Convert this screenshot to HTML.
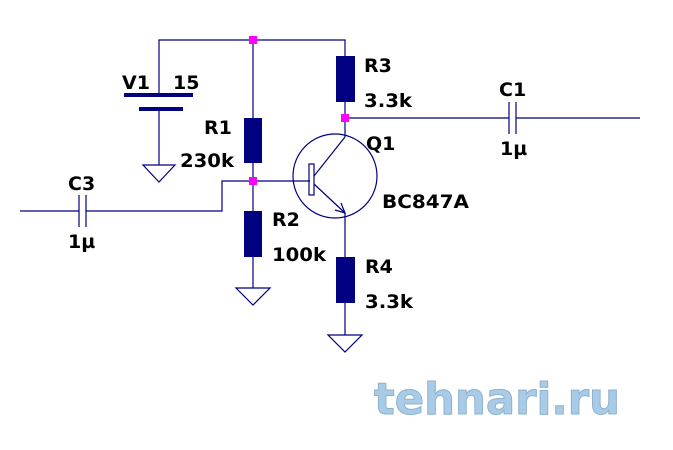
<!DOCTYPE html><html><head><style>body{margin:0;background:#fff}svg{display:block}text{font-family:"DejaVu Sans","Liberation Sans",sans-serif;font-weight:bold;font-size:19px;fill:#000}</style></head><body>
<svg width="673" height="450" viewBox="0 0 673 450">
<g stroke="#000080" stroke-width="1.2" fill="none">
<polyline points="159,95 159,40 345,40 345,56"/>
<line x1="159" y1="108" x2="159" y2="165"/>
<polygon points="143,165 175,165 159,182"/>
<line x1="253" y1="40" x2="253" y2="118"/>
<line x1="253" y1="163" x2="253" y2="211"/>
<line x1="253" y1="257" x2="253" y2="288"/>
<polygon points="236,288 270,288 253,305"/>
<line x1="253" y1="181" x2="310" y2="181"/>
<polyline points="253,181 222,181 222,211 86,211"/>
<line x1="20" y1="211" x2="79" y2="211"/>
<line x1="79" y1="195" x2="79" y2="227"/><line x1="86" y1="195" x2="86" y2="227"/>
<line x1="345" y1="102" x2="345" y2="137"/>
<line x1="345" y1="118" x2="509" y2="118"/>
<line x1="509" y1="102" x2="509" y2="134"/><line x1="516" y1="102" x2="516" y2="134"/>
<line x1="516" y1="118" x2="640" y2="118"/>
<circle cx="335" cy="176" r="42"/>
<rect x="309" y="164" width="5" height="31"/>
<line x1="314" y1="176" x2="345" y2="137"/>
<line x1="314" y1="184" x2="345" y2="213"/>
<polyline points="335,210 345,213 341,203"/>
<line x1="345" y1="213" x2="345" y2="257"/>
<line x1="345" y1="303" x2="345" y2="335"/>
<polygon points="328,335 362,335 345,352"/>
</g>
<g fill="#000080">
<rect x="124" y="93" width="69" height="4"/>
<rect x="139" y="107" width="44" height="4"/>
<rect x="244" y="118" width="18" height="45"/>
<rect x="244" y="211" width="18" height="46"/>
<rect x="336" y="56" width="19" height="46"/>
<rect x="336" y="257" width="19" height="46"/>
</g>
<g fill="#ff00ff">
<rect x="249" y="36" width="8" height="8"/>
<rect x="249" y="177" width="8" height="8"/>
<rect x="341" y="114" width="8" height="8"/>
</g>
<text x="122" y="89">V1</text><text x="173" y="89">15</text>
<text x="204" y="134">R1</text><text x="180" y="167" textLength="54" lengthAdjust="spacingAndGlyphs">230k</text>
<text x="364" y="72">R3</text><text x="364" y="107" textLength="48" lengthAdjust="spacingAndGlyphs">3.3k</text>
<text x="499" y="96">C1</text><text x="500" y="155">1µ</text>
<text x="366" y="150">Q1</text><text x="382" y="208" textLength="87" lengthAdjust="spacingAndGlyphs">BC847A</text>
<text x="68" y="190">C3</text><text x="68" y="248">1µ</text>
<text x="272" y="226">R2</text><text x="272" y="261" textLength="54" lengthAdjust="spacingAndGlyphs">100k</text>
<text x="365" y="273">R4</text><text x="365" y="308" textLength="48" lengthAdjust="spacingAndGlyphs">3.3k</text>
<text x="374" y="414" textLength="246" lengthAdjust="spacingAndGlyphs" style="font-size:44px;fill:#a8cce8;stroke:#8fb0cc;stroke-width:1">tehnari.ru</text>
</svg></body></html>
